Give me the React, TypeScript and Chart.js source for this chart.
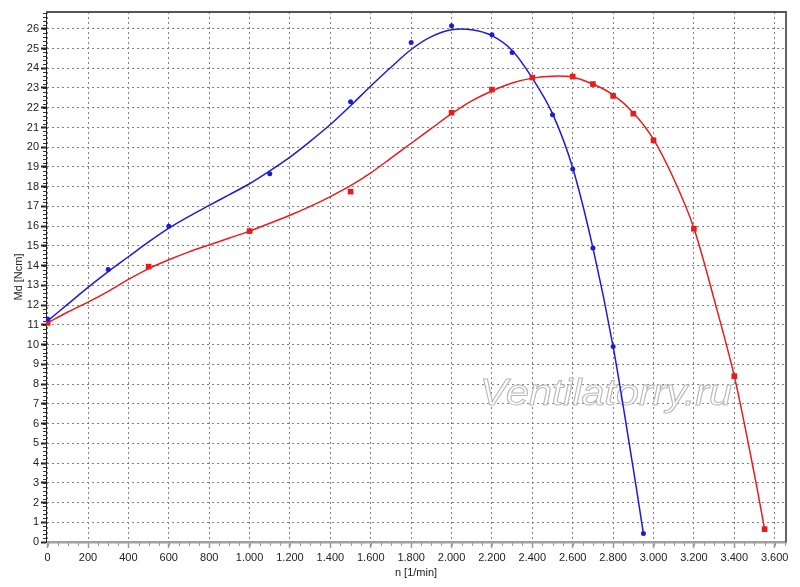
import { useEffect, useRef } from 'react';
import { Chart, registerables } from 'chart.js';

Chart.register(...registerables);

// ── axis ticks ──
const xTicks = [0, 200, 400, 600, 800, 1000, 1200, 1400, 1600, 1800, 2000, 2200, 2400, 2600, 2800, 3000, 3200, 3400, 3600];
const yTicks = [0, 1, 2, 3, 4, 5, 6, 7, 8, 9, 10, 11, 12, 13, 14, 15, 16, 17, 18, 19, 20, 21, 22, 23, 24, 25, 26];

// ── measured points ──
const bluePointsX = [0, 300, 600, 1100, 1500, 1800, 2000, 2200, 2300, 2500, 2600, 2700, 2800, 2950];
const bluePointsY = [11.3, 13.8, 16.0, 18.65, 22.3, 25.3, 26.15, 25.7, 24.8, 21.65, 18.9, 14.9, 9.9, 0.43];
const redPointsX = [0, 500, 1000, 1500, 2000, 2200, 2400, 2600, 2700, 2800, 2900, 3000, 3200, 3400, 3550];
const redPointsY = [11.1, 13.95, 15.75, 17.75, 21.75, 22.92, 23.53, 23.58, 23.2, 22.6, 21.7, 20.35, 15.87, 8.4, 0.65];

// ── fitted curves ──
const blueFitX = [0, 100, 200, 300, 400, 500, 600, 700, 800, 900, 1000, 1100, 1200, 1300, 1400, 1500, 1600, 1700, 1800, 1900, 2000, 2100, 2200, 2300, 2400, 2500, 2600, 2700, 2800, 2900, 2950];
const blueFitY = [11.2, 12.05, 12.9, 13.7, 14.45, 15.2, 15.9, 16.5, 17.05, 17.6, 18.15, 18.8, 19.5, 20.3, 21.15, 22.1, 23.1, 24.05, 24.95, 25.6, 25.95, 25.95, 25.65, 24.9, 23.5, 21.7, 18.95, 14.9, 9.9, 3.7, 0.43];
const redFitX = [0, 100, 200, 300, 400, 500, 600, 700, 800, 900, 1000, 1100, 1200, 1300, 1400, 1500, 1600, 1700, 1800, 1900, 2000, 2100, 2200, 2300, 2400, 2500, 2600, 2700, 2800, 2900, 3000, 3100, 3200, 3300, 3400, 3500, 3550];
const redFitY = [11.1, 11.65, 12.15, 12.7, 13.3, 13.85, 14.3, 14.7, 15.05, 15.4, 15.75, 16.15, 16.55, 17.0, 17.5, 18.05, 18.7, 19.45, 20.2, 20.95, 21.7, 22.35, 22.85, 23.25, 23.5, 23.6, 23.55, 23.2, 22.65, 21.75, 20.4, 18.4, 15.9, 12.3, 8.4, 3.4, 0.65];

const xTitle = 'n [1/min]';
const yTitle = 'Md [Ncm]';
const watermark = 'Ventilatorry.ru';

const FONT = '"Liberation Sans", Arial, sans-serif';
const BLUE = '#1c1cd8';
const RED = '#e81c1c';

const fmtX = (v: number) =>
  v >= 1000 ? `${Math.floor(v / 1000)}.${String(v % 1000).padStart(3, '0')}` : String(v);

const zip = (xs: number[], ys: number[]) => xs.map((x, i) => ({ x, y: ys[i] }));

// frame, minor ticks, watermark
const decorPlugin = {
  id: 'decor',
  beforeDatasetsDraw(chart: Chart) {
    const { ctx, chartArea } = chart;
    ctx.save();
    ctx.font = `italic 36px ${FONT}`;
    const w = ctx.measureText(watermark).width;
    const sx = 252 / w;
    ctx.translate(chartArea.left + 434, chartArea.top + 393);
    ctx.scale(sx, 1);
    ctx.fillStyle = '#ffffff';
    ctx.strokeStyle = '#b8b8b8';
    ctx.lineWidth = 1;
    ctx.fillText(watermark, 0, 0);
    ctx.strokeText(watermark, 0, 0);
    ctx.restore();
  },
  afterDraw(chart: Chart) {
    const { ctx, chartArea, scales } = chart;
    const xs = scales.x;
    const ys = scales.y;
    ctx.save();
    // minor ticks on y
    ctx.strokeStyle = '#333';
    ctx.lineWidth = 1;
    ctx.beginPath();
    for (let v = 0; v <= 26.8; v += 0.2) {
      const py = Math.round(ys.getPixelForValue(v)) + 0.5;
      ctx.moveTo(chartArea.left - 3, py);
      ctx.lineTo(chartArea.left, py);
    }
    ctx.stroke();
    // minor ticks on x
    ctx.strokeStyle = '#999';
    ctx.beginPath();
    for (let v = 0; v <= 3650; v += 50) {
      const px = Math.round(xs.getPixelForValue(v)) + 0.5;
      ctx.moveTo(px, chartArea.bottom);
      ctx.lineTo(px, chartArea.bottom + 4);
    }
    ctx.stroke();
    // top and right frame
    ctx.strokeStyle = '#555';
    ctx.lineWidth = 1.8;
    ctx.beginPath();
    ctx.moveTo(chartArea.left, chartArea.top);
    ctx.lineTo(chartArea.right, chartArea.top);
    ctx.lineTo(chartArea.right, chartArea.bottom);
    ctx.stroke();
    ctx.restore();
  },
};

export default function App() {
  const canvasRef = useRef<HTMLCanvasElement>(null);
  const chartRef = useRef<Chart | null>(null);

  useEffect(() => {
    if (!canvasRef.current) return;
    if (chartRef.current) chartRef.current.destroy();

    chartRef.current = new Chart(canvasRef.current, {
      type: 'scatter',
      data: {
        datasets: [
          {
            data: zip(bluePointsX, bluePointsY),
            showLine: false,
            pointStyle: 'circle',
            pointRadius: 2.5,
            backgroundColor: BLUE,
            borderColor: BLUE,
            borderWidth: 0,
          },
          {
            data: zip(redPointsX, redPointsY),
            showLine: false,
            pointStyle: 'rect',
            pointRadius: 4,
            backgroundColor: RED,
            borderColor: RED,
            borderWidth: 0,
          },
          {
            data: zip(blueFitX, blueFitY),
            showLine: true,
            pointRadius: 0,
            borderColor: BLUE,
            borderWidth: 1.5,
            tension: 0.3,
          },
          {
            data: zip(redFitX, redFitY),
            showLine: true,
            pointRadius: 0,
            borderColor: RED,
            borderWidth: 1.5,
            tension: 0.3,
          },
        ],
      },
      options: {
        responsive: false,
        animation: false,
        layout: { padding: { left: 0, top: 12, right: 14, bottom: 0 } },
        plugins: { legend: { display: false }, tooltip: { enabled: false } },
        scales: {
          x: {
            type: 'linear',
            min: -8,
            max: 3656,
            afterBuildTicks: (s) => { s.ticks = xTicks.map((value) => ({ value })); },
            afterFit: (s) => { s.height = 45; },
            grid: {
              color: '#808080',
              lineWidth: 1,
              drawTicks: true,
              tickLength: 6,
              tickColor: '#999',
              tickWidth: 1.5,
            },
            border: { display: true, color: '#a0a0a0', width: 2.5, dash: [2, 3] },
            ticks: {
              color: '#222',
              font: { family: FONT, size: 11 },
              padding: 3,
              maxRotation: 0,
              autoSkip: false,
              callback: (v) => fmtX(Number(v)),
            },
            title: {
              display: true,
              text: xTitle,
              color: '#222',
              font: { family: FONT, size: 11 },
              padding: { top: 0, bottom: 7 },
            },
          },
          y: {
            type: 'linear',
            min: 0,
            max: 26.85,
            afterBuildTicks: (s) => { s.ticks = yTicks.map((value) => ({ value })); },
            afterFit: (s) => { s.width = 46; },
            grid: {
              color: '#808080',
              lineWidth: 1,
              drawTicks: true,
              tickLength: 5,
              tickColor: '#222',
              tickWidth: 2,
            },
            border: { display: true, color: '#222', width: 1, dash: [2, 3] },
            ticks: {
              color: '#222',
              font: { family: FONT, size: 11 },
              padding: 2,
              autoSkip: false,
              callback: (v) => String(v),
            },
            title: {
              display: true,
              text: yTitle,
              color: '#222',
              font: { family: FONT, size: 11 },
              padding: { top: 12, bottom: 0 },
            },
          },
        },
      },
      plugins: [decorPlugin],
    });

    return () => { chartRef.current?.destroy(); chartRef.current = null; };
  }, []);

  return (
    <div style={{ position: 'absolute', left: 0, top: 0, width: 800, height: 587, background: '#fff' }}>
      <canvas ref={canvasRef} width={800} height={587} />
    </div>
  );
}
